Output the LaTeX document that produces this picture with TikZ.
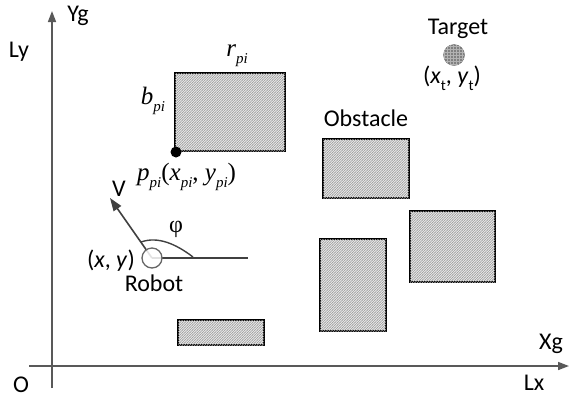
\documentclass[tikz,border=0pt]{standalone}
\usepackage{fontspec}
\setmainfont{Liberation Serif}
\setsansfont{Carlito}
\usetikzlibrary{patterns,patterns.meta,arrows.meta}

% small raised/lowered index text
\newcommand{\lowidx}[1]{\raisebox{-0.28em}{\fontsize{15}{15}\selectfont #1}}

% fine diagonal hatching for the obstacles
\tikzdeclarepattern{
  name=finehatch,
  type=uncolored,
  bounding box={(-0.5pt,-0.5pt) and (3pt,3pt)},
  tile size={(2.5pt,2.5pt)},
  code={\draw[line width=0.5pt] (-0.5pt,-0.5pt) -- (3pt,3pt);}
}

\tikzset{
  axis/.style={draw=black!65, line width=1.6pt, -{Triangle[length=11pt,width=8pt]}},
  obstacle/.style={draw=black, line width=2.4pt, fill=black!8,
    postaction={pattern=finehatch, pattern color=black!38}},
  lbl/.style={font=\sffamily\fontsize{24}{28}\selectfont, inner sep=0pt},
  mlbl/.style={font=\rmfamily\itshape\fontsize{25}{28}\selectfont, inner sep=0pt},
}

\begin{document}
\begin{tikzpicture}[x=1pt,y=-1pt]
\useasboundingbox (0,0) rectangle (575,400);

% coordinate axes
\coordinate (ybot) at (52,388);
\coordinate (ytop) at (52,11);
\coordinate (xleft) at (29,366);
\coordinate (xright) at (569,366);
\draw[axis] (ybot) -- (ytop);
\draw[axis] (xleft) -- (xright);

\node[lbl] (yg) at (78,16) {Yg};
\node[lbl] (ly) at (19,52) {Ly};
\node[lbl] (xg) at (551,344) {Xg};
\node[lbl] (lx) at (534,383) {Lx};
\node[lbl] (o) at (21,385) {O};

% obstacles
\draw[obstacle] (175,73) rectangle (285,151);
\draw[obstacle] (323,139) rectangle (409,198);
\draw[obstacle] (410,211) rectangle (495,282);
\draw[obstacle] (320,239) rectangle (386,331);
\draw[obstacle] (178,320) rectangle (264,345);

\node[lbl] (obst) at (366,118) {Obstacle};

% reference corner of the first obstacle
\fill[black] (176,152) circle (5.5);
\node[mlbl] (r) at (237,56) {r\lowidx{pi}};
\node[mlbl] (b) at (153,101) {b\lowidx{pi}};
\node[mlbl,anchor=west] (p) at (137,177) {p\lowidx{pi}\textup{(}x\lowidx{pi}\textup{,} y\lowidx{pi}\textup{)}};

% target
\node[circle, minimum size=21pt, inner sep=0pt, draw=black!60, fill=black!50,
  postaction={pattern=grid, pattern color=black!30}] (tgt) at (454,55) {};
\node[lbl] (tgtl) at (458,29) {Target};
\node[lbl] (tgtc) at (452,78) {(\textit{x}\lowidx{t}, \textit{y}\lowidx{t})};

% robot with heading
\coordinate (rc) at (152,258);
\coordinate (hx) at (248,258);
\coordinate (vtip) at (110,198);
\draw[black!75, line width=1.6pt] (rc) -- (hx);
\draw[black!75, line width=1.6pt, -{Triangle[length=13pt,width=9pt]}] (rc) -- (vtip);
\node[circle, minimum size=20pt, inner sep=0pt, draw=black!60, line width=1.3pt,
  fill=white, fill opacity=0.85] (robot) at (rc) {};
\coordinate (a1) at (141,242);
\coordinate (a2) at (193,257);
\draw[black!75, line width=1.4pt] (a1) .. controls (158,236) and (176,244) .. (a2);
\node[font=\rmfamily\fontsize{24}{28}\selectfont, inner sep=0pt] (phi) at (176,229) {φ};
\node[lbl] (v) at (119,189) {V};
\node[lbl, anchor=east] (xy) at (135,261) {(\textit{x}, \textit{y})};
\node[lbl] (rob) at (154,283) {Robot};
\end{tikzpicture}
\end{document}
